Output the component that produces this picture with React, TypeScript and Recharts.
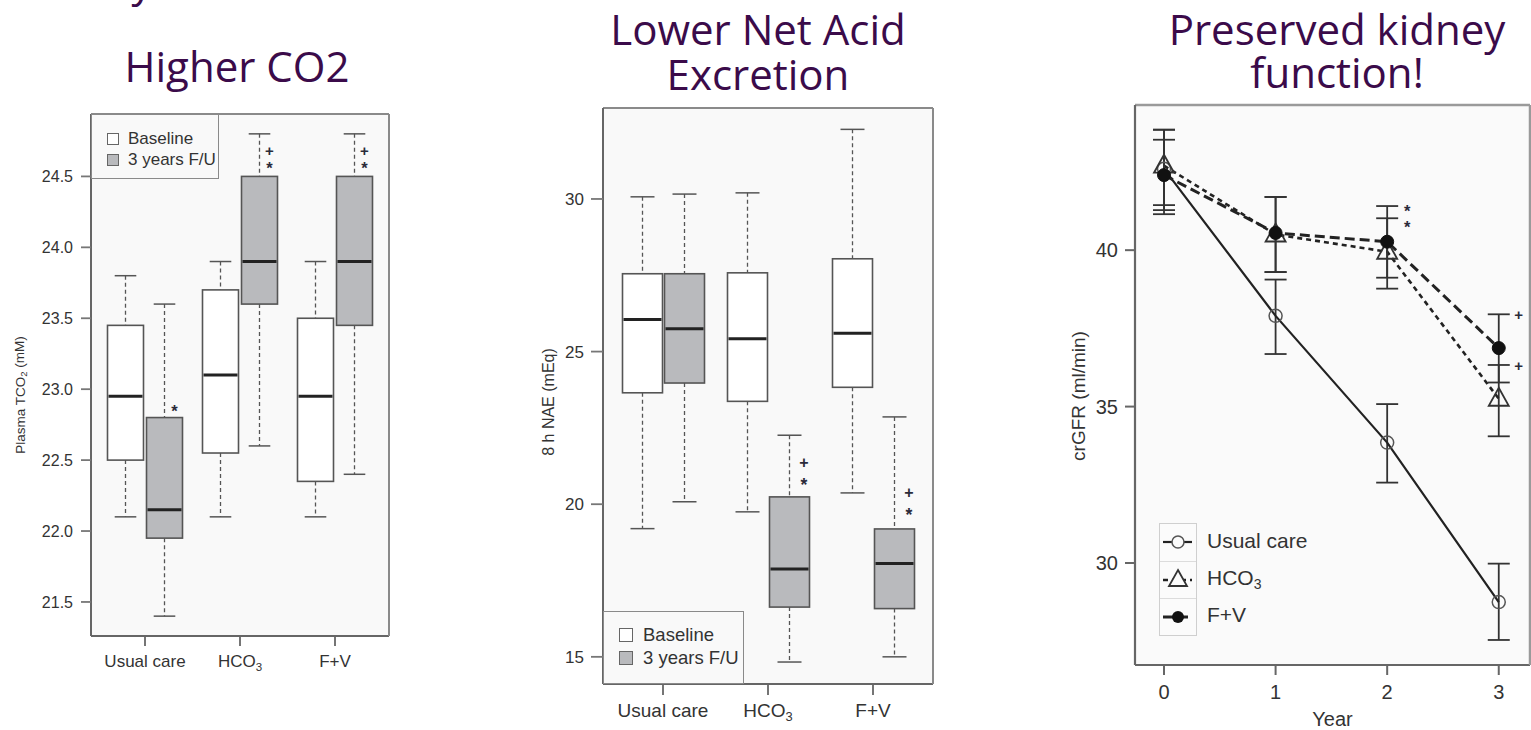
import React from "react";
import {
  ComposedChart,
  Bar,
  XAxis,
  YAxis,
  CartesianGrid,
  Legend,
  ReferenceDot,
  LineChart,
  Line,
  ErrorBar,
  Label,
} from "recharts";

// ---- shared
const categories = ["Usual care", "HCO3", "F+V"];
const boxSeries = ["Baseline", "3 years F/U"];
const lineSeries = ["Usual care", "HCO3", "F+V"];

// ---- panel 1: plasma TCO2, box stats [min, q1, median, q3, max]
const co2Baseline = [
  [22.1, 22.5, 22.95, 23.45, 23.8],
  [22.1, 22.55, 23.1, 23.7, 23.9],
  [22.1, 22.35, 22.95, 23.5, 23.9],
];
const co2FollowUp = [
  [21.4, 21.95, 22.15, 22.8, 23.6],
  [22.6, 23.6, 23.9, 24.5, 24.8],
  [22.4, 23.45, 23.9, 24.5, 24.8],
];
const co2Ticks = [21.5, 22.0, 22.5, 23.0, 23.5, 24.0, 24.5];
const co2Marks = [
  { cat: "Usual care", value: 22.88, text: "*" },
  { cat: "HCO3", value: 24.68, text: "+" },
  { cat: "HCO3", value: 24.59, text: "*" },
  { cat: "F+V", value: 24.68, text: "+" },
  { cat: "F+V", value: 24.59, text: "*" },
];

// ---- panel 2: 8 h NAE
const naeBaseline = [
  [19.2, 23.65, 26.05, 27.55, 30.07],
  [19.75, 23.37, 25.42, 27.58, 30.2],
  [20.37, 23.83, 25.6, 28.04, 32.28],
];
const naeFollowUp = [
  [20.08, 23.97, 25.75, 27.55, 30.16],
  [14.83, 16.63, 17.88, 20.24, 22.26],
  [15.0, 16.58, 18.06, 19.19, 22.86],
];
const naeTicks = [15, 20, 25, 30];
const naeMarks = [
  { cat: "HCO3", value: 21.38, text: "+" },
  { cat: "HCO3", value: 20.8, text: "*" },
  { cat: "F+V", value: 20.37, text: "+" },
  { cat: "F+V", value: 19.8, text: "*" },
];

// ---- panel 3: crGFR by year (mean, lower, upper)
const years = [0, 1, 2, 3];
const ucMean = [42.6, 37.9, 33.85, 28.75];
const ucLow = [41.28, 36.68, 32.57, 27.54];
const ucHigh = [43.85, 39.06, 35.08, 29.98];
const hco3Mean = [42.7, 40.5, 39.95, 35.25];
const hco3Low = [41.44, 39.3, 38.77, 34.05];
const hco3High = [43.85, 41.7, 41.02, 36.33];
const fvMean = [42.4, 40.55, 40.27, 36.87];
const fvLow = [41.15, 39.3, 39.12, 35.77];
const fvHigh = [43.53, 41.7, 41.41, 37.95];
const gfrTicks = [30, 35, 40];
const gfrMarks = [
  { year: 2, value: 41.4, text: "*" },
  { year: 2, value: 40.9, text: "*" },
  { year: 3, value: 37.94, text: "+" },
  { year: 3, value: 36.3, text: "+" },
];

const FONT = "'Liberation Sans', Arial, Helvetica, sans-serif";
const TEXT = "#333";
const FRAME = "#8a8a8a";
const AXIS = "#666";
const FU_FILL = "#b9babd";
const PURPLE = "#3b0b4a";

function makeRows(base: number[][], fu: number[][]) {
  return categories.map((name, i) => ({
    name,
    base: [base[i][0], base[i][4]],
    fu: [fu[i][0], fu[i][4]],
    baseStats: base[i],
    fuStats: fu[i],
  }));
}

const co2Rows = makeRows(co2Baseline, co2FollowUp);
const naeRows = makeRows(naeBaseline, naeFollowUp);

const gfrRows = years.map((year, i) => ({
  year,
  uc: ucMean[i],
  ucErr: [ucMean[i] - ucLow[i], ucHigh[i] - ucMean[i]],
  hco3: hco3Mean[i],
  hco3Err: [hco3Mean[i] - hco3Low[i], hco3High[i] - hco3Mean[i]],
  fv: fvMean[i],
  fvErr: [fvMean[i] - fvLow[i], fvHigh[i] - fvMean[i]],
}));

const inOrder = (payload: any[], order: string[]) =>
  [...(payload || [])].sort((a, b) => order.indexOf(a.value) - order.indexOf(b.value));

// box drawn inside the whisker-range bar; positions come from the bar's own y/height
function BoxGlyph(props: any) {
  const { x, y, width, height, stats, fill } = props;
  if (!stats || !width) return null;
  const [lo, q1, med, q3, hi] = stats;
  const top = Math.min(y, y + height);
  const k = Math.abs(height) / (hi - lo);
  const py = (v: number) => top + (hi - v) * k;
  const cx = x + width / 2;
  const cap = width * 0.3;
  return (
    <g>
      <line x1={cx} x2={cx} y1={py(hi)} y2={py(q3)} stroke="#555" strokeWidth={1.3} strokeDasharray="4 3" />
      <line x1={cx} x2={cx} y1={py(q1)} y2={py(lo)} stroke="#555" strokeWidth={1.3} strokeDasharray="4 3" />
      <line x1={cx - cap} x2={cx + cap} y1={py(hi)} y2={py(hi)} stroke="#555" strokeWidth={1.5} />
      <line x1={cx - cap} x2={cx + cap} y1={py(lo)} y2={py(lo)} stroke="#555" strokeWidth={1.5} />
      <rect x={x} y={py(q3)} width={width} height={py(q1) - py(q3)} fill={fill} stroke="#555" strokeWidth={1.6} />
      <line x1={x + 1} x2={x + width - 1} y1={py(med)} y2={py(med)} stroke="#222" strokeWidth={3} />
    </g>
  );
}

function CatTick(props: any) {
  const { x, y, payload, fontSize } = props;
  const v = payload.value;
  return (
    <text x={x} y={y} dy="0.71em" textAnchor="middle" fontSize={fontSize} fill={TEXT} fontFamily={FONT}>
      {v === "HCO3" ? (
        <>
          HCO
          <tspan dy="0.3em" fontSize={fontSize * 0.68}>3</tspan>
        </>
      ) : (
        v
      )}
    </text>
  );
}

function markShape(text: string, dx: number, size: number) {
  return (p: any) => (
    <text
      x={p.cx + dx}
      y={p.cy + (text === "*" ? size * 0.3 : 0)}
      textAnchor="middle"
      dominantBaseline="central"
      fontSize={text === "*" ? size * 1.1 : size}
      fontWeight="bold"
      fill="#2b2b3a"
      fontFamily={FONT}
    >
      {text}
    </text>
  );
}

function BoxLegend(props: any) {
  const { payload, fontSize, w, h, sq, padL, padT, rowH, gap } = props;
  return (
    <div
      style={{
        width: w,
        height: h,
        boxSizing: "border-box",
        border: `1.5px solid ${FRAME}`,
        background: "#f9f9f9",
        paddingLeft: padL,
        paddingTop: padT,
        fontFamily: FONT,
        fontSize,
        color: TEXT,
      }}
    >
      {inOrder(payload, boxSeries).map((e: any) => (
        <div key={e.value} style={{ display: "flex", alignItems: "center", height: rowH, whiteSpace: "nowrap" }}>
          <span
            style={{
              display: "inline-block",
              width: sq,
              height: sq,
              boxSizing: "border-box",
              background: e.color,
              border: "1.5px solid #666",
              marginRight: gap,
            }}
          />
          {e.value}
        </div>
      ))}
    </div>
  );
}

function BoxPanel(props: any) {
  const { rows, domain, ticks, fmt, marks, cfg, yLabel } = props;
  return (
    <ComposedChart
      width={cfg.width}
      height={cfg.height}
      data={rows}
      margin={cfg.margin}
      barSize={cfg.barSize}
      barGap={cfg.barGap}
      style={{ fontFamily: FONT }}
    >
      <CartesianGrid fill="#f9f9f9" horizontal={false} vertical={false} />
      <XAxis
        dataKey="name"
        type="category"
        interval={0}
        padding={{ left: cfg.pad, right: cfg.pad }}
        height={40}
        tickSize={cfg.xTickSize}
        tickMargin={9}
        tick={(p: any) => <CatTick {...p} fontSize={cfg.xFont} />}
        axisLine={{ stroke: AXIS, strokeWidth: 2 }}
        tickLine={{ stroke: AXIS, strokeWidth: 1.8 }}
      />
      <XAxis xAxisId="top" dataKey="name" orientation="top" height={1} tick={false} tickLine={false} axisLine={{ stroke: FRAME, strokeWidth: 2 }} />
      <YAxis
        type="number"
        domain={domain}
        ticks={ticks}
        allowDataOverflow
        width={cfg.yWidth}
        tickSize={cfg.yTickSize}
        tickMargin={cfg.yTickMargin}
        tickFormatter={fmt}
        tick={{ fill: TEXT, fontSize: cfg.yFont, fontFamily: FONT }}
        axisLine={{ stroke: AXIS, strokeWidth: 2 }}
        tickLine={{ stroke: "#777", strokeWidth: 1.8 }}
      >
        <Label
          content={(lp: any) => {
            const vb = lp.viewBox || {};
            const cy = vb.y + vb.height / 2 + cfg.labelDy;
            return (
              <text
                transform={`translate(${vb.x + cfg.labelDx}, ${cy}) rotate(-90)`}
                textAnchor="middle"
                dominantBaseline="central"
                fontSize={cfg.labelFont}
                fill={TEXT}
                fontFamily={FONT}
              >
                {yLabel}
              </text>
            );
          }}
        />
      </YAxis>
      <YAxis yAxisId="right" orientation="right" width={1} domain={domain} allowDataOverflow tick={false} tickLine={false} axisLine={{ stroke: FRAME, strokeWidth: 2 }} />
      <Bar
        dataKey="base"
        name="Baseline"
        fill="#ffffff"
        isAnimationActive={false}
        shape={(p: any) => <BoxGlyph {...p} stats={p.payload.baseStats} fill="#ffffff" />}
      />
      <Bar
        dataKey="fu"
        name="3 years F/U"
        fill={FU_FILL}
        isAnimationActive={false}
        shape={(p: any) => <BoxGlyph {...p} stats={p.payload.fuStats} fill={FU_FILL} />}
      />
      {marks.map((m: any, i: number) => (
        <ReferenceDot key={i} x={m.cat} y={m.value} r={0} ifOverflow="visible" shape={markShape(m.text, cfg.markDx, cfg.markFont)} />
      ))}
      <Legend
        layout="vertical"
        align="center"
        verticalAlign="middle"
        wrapperStyle={{ position: "absolute", left: cfg.legend.left, top: cfg.legend.top, width: cfg.legend.w, height: cfg.legend.h }}
        content={(lp: any) => <BoxLegend payload={lp.payload} {...cfg.legend} />}
      />
    </ComposedChart>
  );
}

const co2Cfg = {
  width: 400,
  height: 580,
  margin: { top: 13, right: 10, bottom: 4, left: 12 },
  barSize: 36,
  barGap: 3,
  pad: 6.5,
  xFont: 17,
  xTickSize: 10,
  yWidth: 79,
  yTickSize: 10,
  yTickMargin: 8,
  yFont: 16,
  labelFont: 13.5,
  labelDx: 8,
  labelDy: 20,
  markDx: 29.5,
  markFont: 15,
  legend: { left: 91, top: 14, w: 128, h: 65, fontSize: 17, sq: 12, padL: 15, padT: 13, rowH: 21, gap: 9 },
};

const naeCfg = {
  width: 410,
  height: 638,
  margin: { top: 15, right: 16, bottom: 6, left: 3 },
  barSize: 40,
  barGap: 2,
  pad: 7.5,
  xFont: 19,
  xTickSize: 11,
  yWidth: 60,
  yTickSize: 12,
  yTickMargin: 7,
  yFont: 17,
  labelFont: 16,
  labelDx: 5,
  labelDy: 6,
  markDx: 36,
  markFont: 16,
  legend: { left: 63, top: 519, w: 141, h: 73, fontSize: 18.5, sq: 14, padL: 15, padT: 11, rowH: 23, gap: 10 },
};

// ---- line panel helpers
const openCircle = (p: any) => (
  <circle key={`uc-${p.index}`} cx={p.cx} cy={p.cy} r={6.5} fill="none" stroke="#555" strokeWidth={1.5} />
);
const openTriangle = (p: any) => (
  <path
    key={`hc-${p.index}`}
    d={`M${p.cx},${p.cy - 11} L${p.cx + 10},${p.cy + 7} L${p.cx - 10},${p.cy + 7} Z`}
    fill="none"
    stroke="#333"
    strokeWidth={1.8}
  />
);
const filledCircle = (p: any) => <circle key={`fv-${p.index}`} cx={p.cx} cy={p.cy} r={6.5} fill="#111" stroke="#111" strokeWidth={1} />;

const lineStyles: Record<string, any> = {
  "Usual care": { dash: undefined, width: 2.2, marker: "open" },
  HCO3: { dash: "5 4", width: 2.6, marker: "tri" },
  "F+V": { dash: "10 5", width: 3, marker: "fill" },
};

function GfrLegend(props: any) {
  const items = inOrder(props.payload, lineSeries);
  return (
    <div style={{ position: "relative", fontFamily: FONT, fontSize: 21, color: TEXT }}>
      <div style={{ width: 38, border: "1.5px solid #cfcfcf", boxSizing: "border-box", background: "#fbfbfb" }}>
        {items.map((e: any, i: number) => {
          const st = lineStyles[e.value];
          return (
            <div key={e.value} style={{ height: 37, borderTop: i ? "1.5px solid #dcdcdc" : "none", boxSizing: "border-box" }}>
              <svg width={35} height={35}>
                <line x1={3} x2={32} y1={18} y2={18} stroke="#222" strokeWidth={st.width} strokeDasharray={st.dash} />
                {st.marker === "open" && <circle cx={18} cy={18} r={6} fill="#fbfbfb" stroke="#555" strokeWidth={1.5} />}
                {st.marker === "tri" && <path d="M18,8 L27,24 L9,24 Z" fill="#fbfbfb" stroke="#333" strokeWidth={1.8} />}
                {st.marker === "fill" && <circle cx={18} cy={18} r={6} fill="#111" />}
              </svg>
            </div>
          );
        })}
      </div>
      {items.map((e: any, i: number) => (
        <div key={`t-${e.value}`} style={{ position: "absolute", left: 48, top: i * 37 + 5, whiteSpace: "nowrap", lineHeight: "26px" }}>
          {e.value === "HCO3" ? (
            <span>
              HCO<sub style={{ fontSize: 14, verticalAlign: "-4px" }}>3</sub>
            </span>
          ) : (
            e.value
          )}
        </div>
      ))}
    </div>
  );
}

function GfrPanel() {
  return (
    <LineChart width={481} height={640} data={gfrRows} margin={{ top: 14, right: 0, bottom: 5, left: 15 }} style={{ fontFamily: FONT }}>
      <CartesianGrid fill="#fafafa" horizontal={false} vertical={false} />
      <XAxis
        type="number"
        dataKey="year"
        domain={[-0.26, 3.28]}
        ticks={years}
        allowDataOverflow
        height={60}
        tickSize={10}
        tickMargin={10}
        tick={{ fill: TEXT, fontSize: 20, fontFamily: FONT }}
        axisLine={{ stroke: AXIS, strokeWidth: 2.2 }}
        tickLine={{ stroke: AXIS, strokeWidth: 2 }}
      >
        <Label value="Year" position="insideBottom" offset={-1} fill={TEXT} fontSize={20} fontFamily={FONT} />
      </XAxis>
      <XAxis xAxisId="top" type="number" dataKey="year" domain={[-0.26, 3.28]} orientation="top" height={1} tick={false} tickLine={false} axisLine={{ stroke: "#9a9a9a", strokeWidth: 2.5 }} />
      <YAxis
        type="number"
        domain={[26.74, 44.64]}
        ticks={gfrTicks}
        allowDataOverflow
        width={70}
        tickSize={10}
        tickMargin={7}
        tick={{ fill: TEXT, fontSize: 20, fontFamily: FONT }}
        axisLine={{ stroke: AXIS, strokeWidth: 2.2 }}
        tickLine={{ stroke: AXIS, strokeWidth: 2 }}
      >
        <Label
          content={(lp: any) => {
            const vb = lp.viewBox || {};
            const cy = vb.y + vb.height / 2 + 11;
            return (
              <text transform={`translate(${vb.x + 13}, ${cy}) rotate(-90)`} textAnchor="middle" dominantBaseline="central" fontSize={19} fill={TEXT} fontFamily={FONT}>
                crGFR (ml/min)
              </text>
            );
          }}
        />
      </YAxis>
      <YAxis yAxisId="right" orientation="right" width={1} domain={[26.74, 44.64]} allowDataOverflow tick={false} tickLine={false} axisLine={{ stroke: "#9a9a9a", strokeWidth: 2.5 }} />
      <Line dataKey="uc" name="Usual care" stroke="#222" strokeWidth={2.2} dot={openCircle} activeDot={false} isAnimationActive={false}>
        <ErrorBar dataKey="ucErr" direction="y" width={11} stroke="#333" strokeWidth={1.8} />
      </Line>
      <Line dataKey="hco3" name="HCO3" stroke="#222" strokeWidth={2.6} strokeDasharray="5 4" dot={openTriangle} activeDot={false} isAnimationActive={false}>
        <ErrorBar dataKey="hco3Err" direction="y" width={11} stroke="#333" strokeWidth={1.8} />
      </Line>
      <Line dataKey="fv" name="F+V" stroke="#222" strokeWidth={3} strokeDasharray="10 5" dot={filledCircle} activeDot={false} isAnimationActive={false}>
        <ErrorBar dataKey="fvErr" direction="y" width={11} stroke="#333" strokeWidth={1.8} />
      </Line>
      {gfrMarks.map((m, i) => (
        <ReferenceDot key={i} x={m.year} y={m.value} r={0} ifOverflow="visible" shape={markShape(m.text, 20, 15)} />
      ))}
      <Legend
        layout="vertical"
        align="center"
        verticalAlign="middle"
        itemSorter={null as any}
        wrapperStyle={{ position: "absolute", left: 109, top: 433, width: 200, height: 112 }}
        content={(lp: any) => <GfrLegend payload={lp.payload} />}
      />
    </LineChart>
  );
}

const titleStyle = { fontFamily: "'Open Sans', sans-serif", fontSize: 42, fill: PURPLE } as const;

export default function App() {
  return (
    <div style={{ position: "absolute", left: 0, top: 0, width: 1531, height: 730, background: "#fff", overflow: "hidden" }}>
      <svg width={1531} height={730} style={{ position: "absolute", left: 0, top: 0 }}>
        <text x={142} y={-3} textAnchor="middle" {...titleStyle}>y</text>
        <text x={237} y={82} textAnchor="middle" {...titleStyle}>Higher CO2</text>
        <text x={758} y={45} textAnchor="middle" {...titleStyle}>Lower Net Acid</text>
        <text x={758} y={90} textAnchor="middle" {...titleStyle}>Excretion</text>
        <text x={1337} y={45} textAnchor="middle" {...titleStyle}>Preserved kidney</text>
        <text x={1337} y={88} textAnchor="middle" {...titleStyle}>function!</text>
      </svg>
      <div style={{ position: "absolute", left: 0, top: 100, background: "#fff" }}>
        <BoxPanel
          rows={co2Rows}
          domain={[21.26, 24.94]}
          ticks={co2Ticks}
          fmt={(v: number) => v.toFixed(1)}
          marks={co2Marks}
          cfg={co2Cfg}
          yLabel={
            <>
              Plasma TCO<tspan dy="0.3em" fontSize={9.5}>2</tspan>
              <tspan dy="-0.3em"> (mM)</tspan>
            </>
          }
        />
      </div>
      <div style={{ position: "absolute", left: 540, top: 92, background: "#fff" }}>
        <BoxPanel
          rows={naeRows}
          domain={[14.11, 32.98]}
          ticks={naeTicks}
          fmt={(v: number) => String(v)}
          marks={naeMarks}
          cfg={naeCfg}
          yLabel="8 h NAE (mEq)"
        />
      </div>
      <div style={{ position: "absolute", left: 1050, top: 90, background: "#fff" }}>
        <GfrPanel />
      </div>
    </div>
  );
}
